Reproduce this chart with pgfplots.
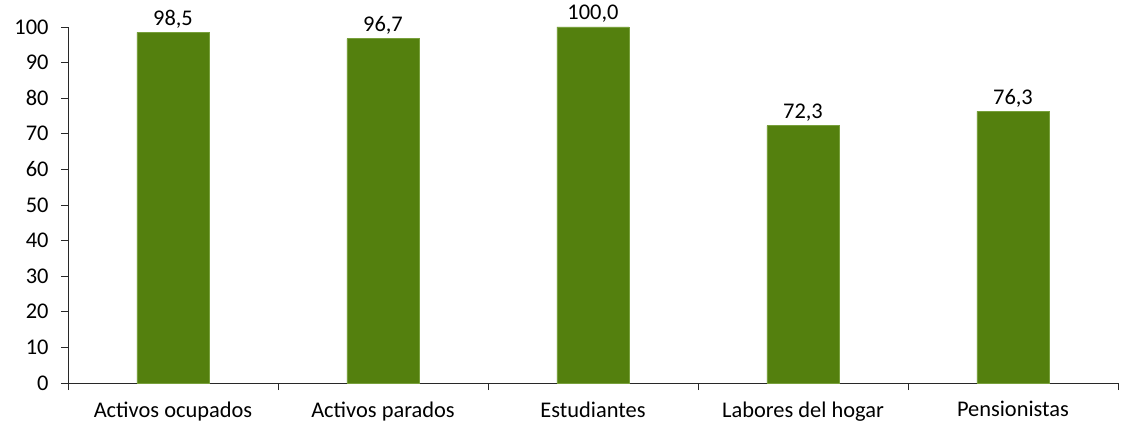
\documentclass[border=0pt]{standalone}
\usepackage{fontspec}
\setmainfont{Carlito}
\usepackage{pgfplots}
\pgfplotsset{compat=1.18}
\definecolor{barfill}{RGB}{84,128,14}
\definecolor{baredge}{RGB}{120,160,60}
\definecolor{axisgray}{RGB}{40,40,40}

\begin{document}
\begin{tikzpicture}
\begin{axis}[
    at={(0,0)}, anchor=south west,
    scale only axis,
    width=1050bp, height=356bp,
    xmin=-0.5, xmax=4.5,
    ymin=0, ymax=100,
    axis x line*=bottom,
    axis y line*=left,
    axis line style={axisgray, line width=0.9pt},
    ytick={0,10,...,100},
    xtick={0,1,2,3,4},
    xticklabels={Activos ocupados, Activos parados, Estudiantes, Labores del hogar, Pensionistas},
    major x tick style={draw=none},
    minor xtick={-0.5,0.5,1.5,2.5,3.5,4.5},
    minor x tick style={axisgray, line width=0.9pt},
    minor tick length=7bp,
    major tick length=7bp,
    tick align=outside,
    ytick style={axisgray, line width=0.9pt},
    tick label style={font=\fontsize{22.5}{26}\selectfont, text=black},
    xticklabel style={yshift=-8bp},
    yticklabel style={xshift=-9bp},
    /pgf/number format/assume math mode=true,
    ybar, bar width=72bp,
    clip=false,
    nodes near coords={\pgfmathprintnumber[fixed,fixed zerofill,precision=1,use comma,assume math mode=true]{\pgfplotspointmeta}},
    nodes near coords style={font=\fontsize{22.5}{26}\selectfont, text=black, anchor=south, inner sep=4bp},
]
\addplot[fill=barfill, draw=baredge, line width=0.6pt] coordinates {
    (0,98.5) (1,96.7) (2,100.0) (3,72.3) (4,76.3)
};
\end{axis}
\useasboundingbox (-68bp,-46bp) rectangle (1053bp,383bp);
\end{tikzpicture}
\end{document}
